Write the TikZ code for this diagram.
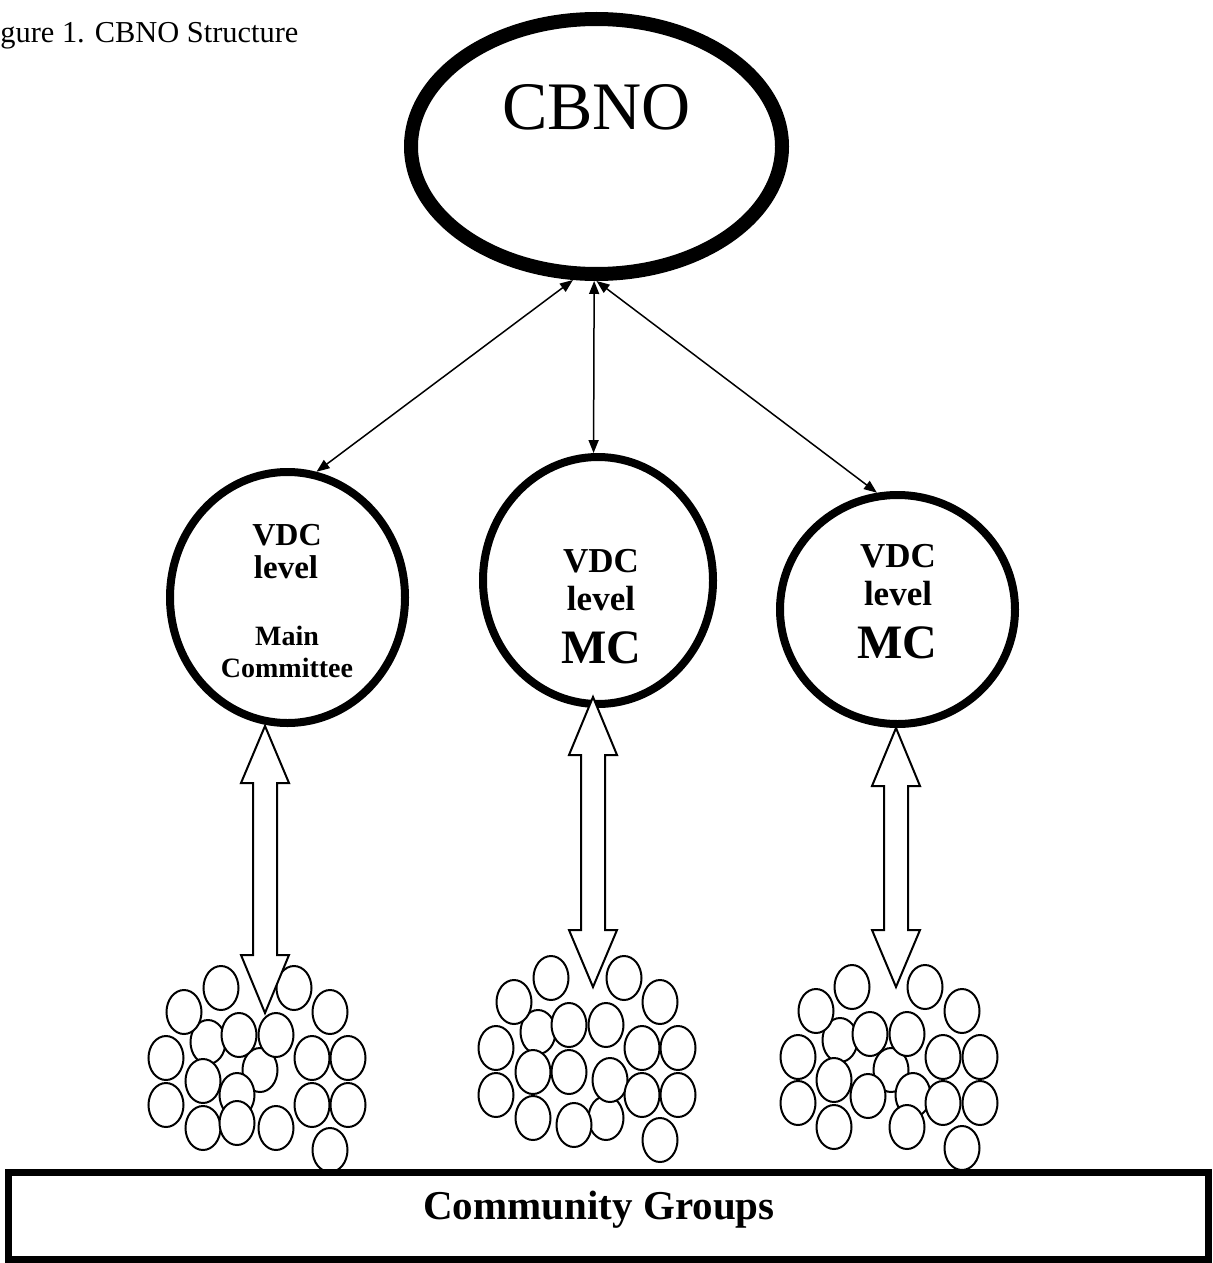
\documentclass[tikz,border=0pt]{standalone}
\usepackage{fontspec}
\setmainfont{Liberation Serif}
\usetikzlibrary{shapes.geometric,arrows.meta}
\tikzset{
  bigoval/.style={draw, ellipse, fill=white, line width=7pt, inner sep=0pt},
  vdcoval/.style={draw, ellipse, fill=white, line width=4pt, inner sep=0pt},
  bubble/.style={draw, ellipse, fill=white, line width=1pt, minimum width=17.5pt, minimum height=22pt, inner sep=0pt},
  thinarrow/.style={line width=0.75pt, {Triangle[length=6.5pt,width=5pt]}-{Triangle[length=6.5pt,width=5pt]}},
  blockarrow/.style={draw, fill=white, line width=1pt, line join=miter},
  txt/.style={inner sep=0pt, anchor=base},
  groupbox/.style={draw, fill=white, line width=3.5pt, inner sep=0pt}
}
\newcommand{\hollowdarrow}[5]{%
  \draw[blockarrow] (#1,#2) -- (#1+24,#3) -- (#1+12,#3) -- (#1+12,#4) -- (#1+24,#4) -- (#1,#5)
    -- (#1-24,#4) -- (#1-12,#4) -- (#1-12,#3) -- (#1-24,#3) -- cycle;}
\begin{document}
\begin{tikzpicture}[x=0.5pt,y=-0.5pt]
\useasboundingbox (0,0) rectangle (1212,1263);

% title
\node[inner sep=0pt, anchor=base west, font=\fontsize{15.2}{18}\selectfont] (title) at (0,43) {gure 1. CBNO Structure};

% CBNO
\node[bigoval, minimum width=185.5pt, minimum height=127.5pt] (cbno) at (596.5,146.5) {};
\node[txt, font=\fontsize{34}{40}\selectfont] (cbnotext) at (596.5,130) {CBNO};

% thin connectors (drawn first so circles sit on top of line ends)
\node[vdcoval, minimum width=117.5pt, minimum height=125.5pt] (c1) at (287.5,597.5) {};
\node[vdcoval, minimum width=115pt, minimum height=123.5pt] (c2) at (598,580.5) {};
\node[vdcoval, minimum width=117.5pt, minimum height=114.5pt] (c3) at (897.5,609.5) {};

\draw[thinarrow] (cbno.-100.6) -- (c1.77.3);
\draw[thinarrow] (cbno.-91.5) -- (c2.92.2);
\draw[thinarrow] (cbno.-90.6) -- (c3.100.9);

% texts in circles
\node[txt, font=\bfseries\fontsize{16}{18}\selectfont] (c1a) at (287,545) {VDC};
\node[txt, font=\bfseries\fontsize{16.5}{18}\selectfont] (c1b) at (286,578) {level};
\node[txt, font=\bfseries\fontsize{14}{16}\selectfont] (c1c) at (287,645) {Main};
\node[txt, font=\bfseries\fontsize{14}{16}\selectfont] (c1d) at (287,677) {Committee};

\node[txt, font=\bfseries\fontsize{17.5}{20}\selectfont] (c2a) at (601,572) {VDC};
\node[txt, font=\bfseries\fontsize{17.5}{20}\selectfont] (c2b) at (601,610) {level};
\node[txt, font=\bfseries\fontsize{24}{28}\selectfont] (c2c) at (601,663) {MC};

\node[txt, font=\bfseries\fontsize{17.5}{20}\selectfont] (c3a) at (898,567) {VDC};
\node[txt, font=\bfseries\fontsize{17.5}{20}\selectfont] (c3b) at (898,605) {level};
\node[txt, font=\bfseries\fontsize{24}{28}\selectfont] (c3c) at (897,658) {MC};

% bubble clusters
\foreach \bx/\by [count=\i] in {260/1070,208/1042,237/1095,221/988,294/988,184/1012,330/1012,239/1035,276/1035,166/1058,312/1058,348/1058,203/1081,166/1105,312/1105,348/1105,203/1128,237/1123,276/1128,330/1150}
  \node[bubble] (ga\i) at (\bx,\by) {};
\foreach \bx/\by [count=\i] in {538/1032,606/1118,551/978,624/978,514/1002,660/1002,569/1025,606/1025,496/1048,642/1048,678/1048,533/1072,569/1072,610/1080,496/1095,642/1095,678/1095,533/1118,574/1125,660/1140}
  \node[bubble] (gb\i) at (\bx,\by) {};
\foreach \bx/\by [count=\i] in {891/1070,840/1040,868/1096,913/1095,852/987,925/987,816/1011,962/1011,870/1034,907/1034,798/1057,943/1057,980/1057,834/1080,798/1103,943/1103,980/1103,834/1127,907/1127,962/1148}
  \node[bubble] (gc\i) at (\bx,\by) {};

% hollow double arrows
\hollowdarrow{265}{726}{783}{955}{1013}
\hollowdarrow{593}{697}{755}{930}{987}
\hollowdarrow{896}{728}{786}{930}{987}

% community groups box
\node[groupbox, minimum width=600pt, minimum height=43.5pt] (cg) at (608,1215.5) {};
\node[txt, font=\bfseries\fontsize{20.5}{24}\selectfont] (cgtext) at (599,1219) {Community Groups};
\end{tikzpicture}
\end{document}
